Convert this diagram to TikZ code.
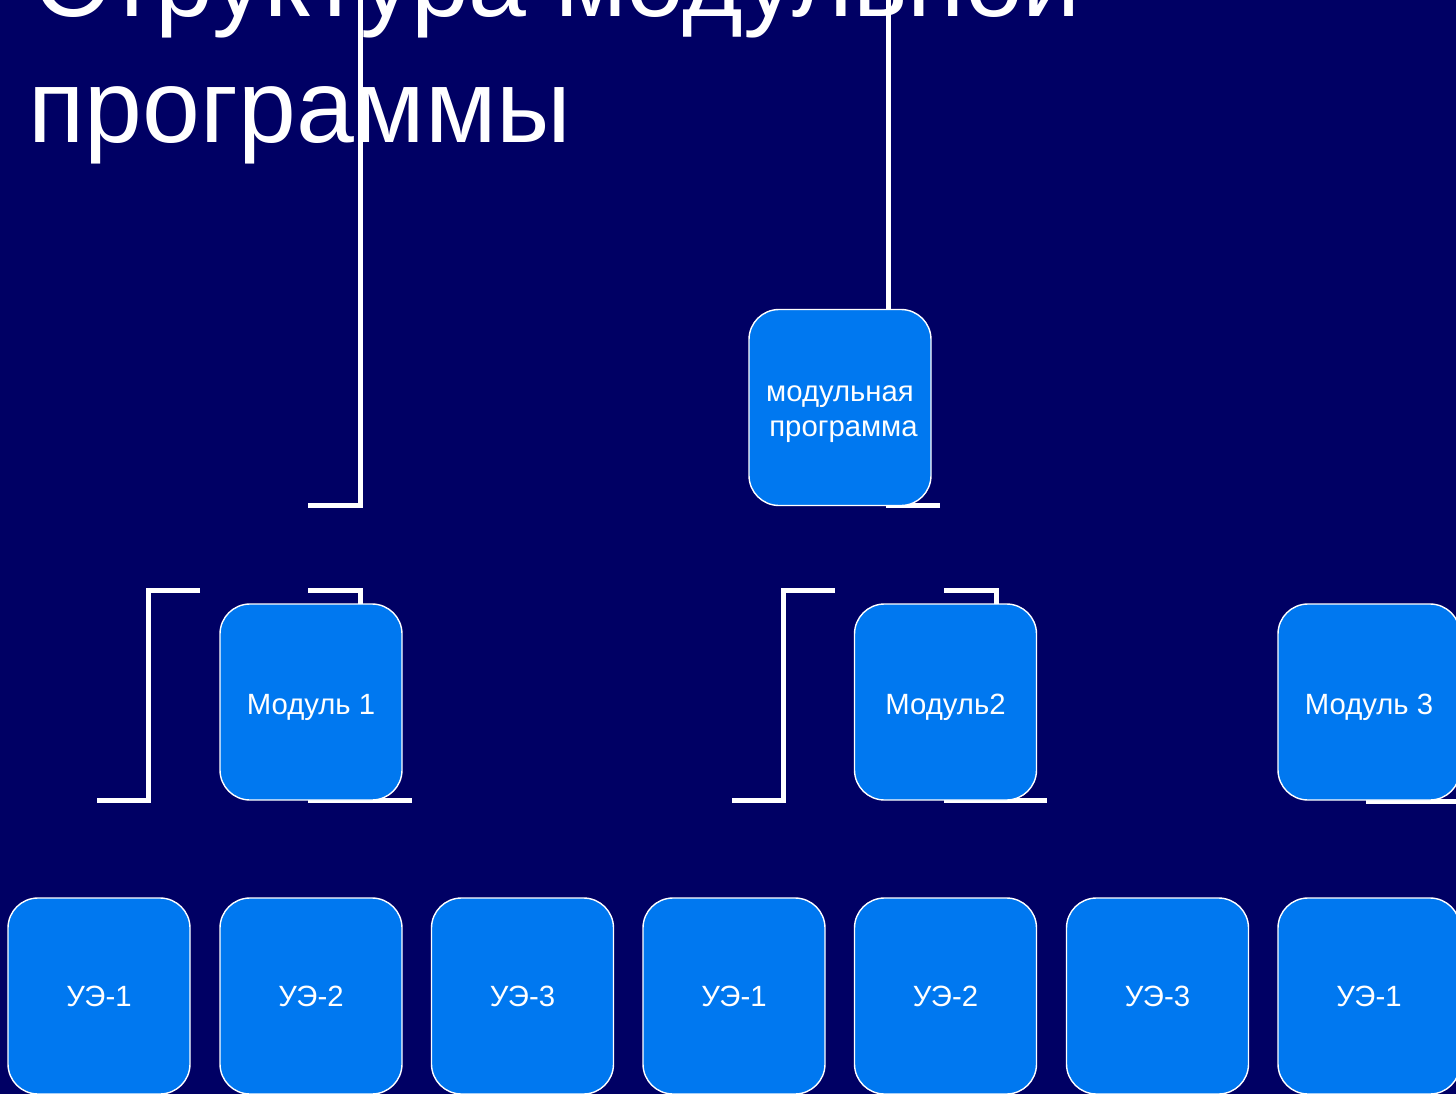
\documentclass[tikz,border=0pt]{standalone}
\usepackage{fontspec}
\setmainfont{Liberation Sans}
\definecolor{bgnavy}{RGB}{0,0,100}
\definecolor{boxblue}{RGB}{0,120,240}
\tikzset{
  blk/.style={draw=white, line width=1.4pt, fill=boxblue, rounded corners=30pt,
    minimum width=182pt, minimum height=196pt, inner sep=0pt, text=white,
    align=center, font=\fontsize{29.3}{35}\selectfont},
  modblk/.style={blk, text height=24pt, text depth=0pt},
  conn/.style={draw=white, line width=5pt, line cap=butt, line join=miter},
  ttl/.style={text=white, anchor=base west, inner sep=0pt, font=\fontsize{104}{120}\selectfont}
}
\begin{document}
\begin{tikzpicture}[x=1pt,y=-1pt]
\useasboundingbox (0,0) rectangle (1456,1094);
\clip (0,0) rectangle (1456,1094);
\fill[bgnavy] (0,0) rectangle (1456,1094);
% title
\node[ttl] (t1) at (33,17) {Структура модульной};
\node[ttl] (t2) at (28,143) {программы};
% connector coordinates
\coordinate (a0) at (360,0);
\coordinate (a1) at (360,505);
\coordinate (a2) at (308,505);
\coordinate (b0) at (308,590);
\coordinate (b1) at (360,590);
\coordinate (b2) at (360,606);
\coordinate (c0) at (200,590);
\coordinate (c1) at (148,590);
\coordinate (c2) at (148,800);
\coordinate (c3) at (97,800);
\coordinate (d0) at (308,800);
\coordinate (d1) at (412,800);
\coordinate (e0) at (888,0);
\coordinate (e1) at (888,312);
\coordinate (f0) at (886,505);
\coordinate (f1) at (940,505);
\coordinate (g0) at (835,590);
\coordinate (g1) at (783,590);
\coordinate (g2) at (783,800);
\coordinate (g3) at (732,800);
\coordinate (h0) at (944,590);
\coordinate (h1) at (996,590);
\coordinate (h2) at (996,606);
\coordinate (i0) at (944,800);
\coordinate (i1) at (1047,800);
\coordinate (j0) at (1366,801);
\coordinate (j1) at (1456,801);
% connectors
\draw[conn] (a0) -- (a1) -- (a2);
\draw[conn] (b0) -- (b1) -- (b2);
\draw[conn] (c0) -- (c1) -- (c2) -- (c3);
\draw[conn] (d0) -- (d1);
\draw[conn] (e0) -- (e1);
\draw[conn] (f0) -- (f1);
\draw[conn] (g0) -- (g1) -- (g2) -- (g3);
\draw[conn] (h0) -- (h1) -- (h2);
\draw[conn] (i0) -- (i1);
\draw[conn] (j0) -- (j1);
% boxes
\node[blk] (top) at (840,407.5) {\rule{0pt}{29pt}модульная\\ \hspace*{7pt}программа};
\node[modblk] (m1) at (311,702) {Модуль 1};
\node[modblk] (m2) at (945.5,702) {Модуль2};
\node[modblk] (m3) at (1369,702) {Модуль 3};
\node[blk] (u1) at (99,996) {УЭ-1};
\node[blk] (u2) at (311,996) {УЭ-2};
\node[blk] (u3) at (522.5,996) {УЭ-3};
\node[blk] (u4) at (734,996) {УЭ-1};
\node[blk] (u5) at (945.5,996) {УЭ-2};
\node[blk] (u6) at (1157.5,996) {УЭ-3};
\node[blk] (u7) at (1369,996) {УЭ-1};
\end{tikzpicture}
\end{document}
